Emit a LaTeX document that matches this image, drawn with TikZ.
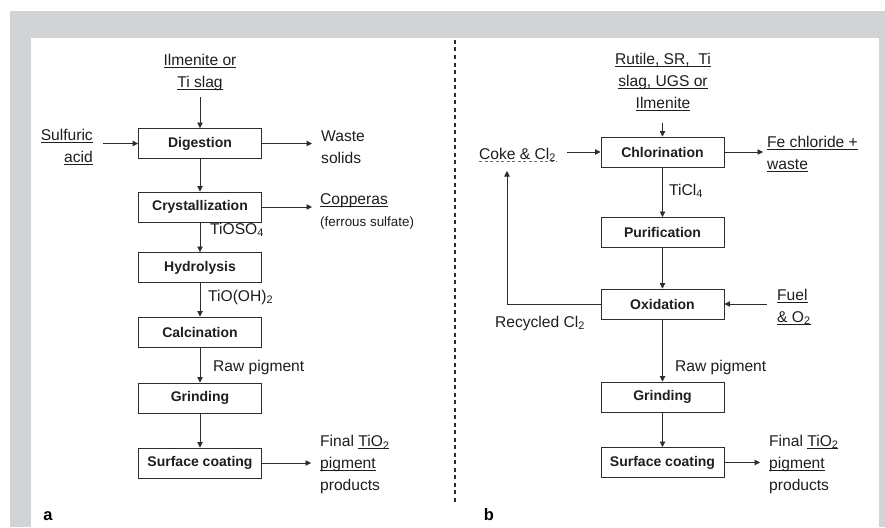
\documentclass[tikz,border=0pt]{standalone}
\usepackage{fontspec}
\setmainfont{Liberation Sans}
\usetikzlibrary{arrows.meta}
\definecolor{framegray}{RGB}{209,211,212}
\definecolor{ink}{RGB}{30,30,30}
\definecolor{wire}{RGB}{45,45,45}
% underline at a fixed depth below the baseline
\newcommand\undl[1]{\setbox0\hbox{#1}\rlap{\rule[-2.6pt]{\wd0}{0.85pt}}\box0}
\tikzset{
  stepbox/.style={draw=wire, line width=0.95pt, minimum width=123pt, minimum height=30pt,
    inner sep=0pt, font=\fontsize{14}{17}\selectfont\bfseries, text=ink},
  lbl/.style={inner sep=0pt, font=\fontsize{15.6}{22}\selectfont, text=ink},
  sml/.style={inner sep=0pt, font=\fontsize{13.4}{16}\selectfont, text=ink},
  flow/.style={draw=wire, line width=0.85pt, -{Triangle[length=5.5pt,width=5.5pt]}},
  panel/.style={inner sep=0pt, font=\fontsize{16.5}{18}\selectfont\bfseries, text=black}
}
\begin{document}
\begin{tikzpicture}[x=1pt,y=-1pt]
\useasboundingbox (0,0) rectangle (885,527);
% frame
\fill[white] (0,0) rectangle (885,527);
\fill[framegray] (10,11) rectangle (885,527);
\fill[white] (31,38) rectangle (879,527);
% separator between the two routes
\draw[wire, line width=1.6pt, dash pattern=on 4pt off 3.5pt] (455,40) -- (455,502);

% ---------- (a) sulfate route ----------
\node[lbl, align=center] (ilm) at (200,72) {\undl{Ilmenite or}\\\undl{Ti slag}};
\node[stepbox] (dig) at (200,143.5) {Digestion};
\node[lbl, align=right, anchor=east] (sulf) at (93,147) {\undl{Sulfuric}\\\undl{acid}};
\node[lbl, align=left, anchor=west] (waste) at (321,147) {Waste\\solids};
\node[stepbox] (cry) at (200,207) {Crystallization};
\node[lbl, anchor=base west] (cop) at (320,204) {\undl{Copperas}};
\node[sml, anchor=base west] (fer) at (320,226) {(ferrous sulfate)};
\node[stepbox] (hyd) at (200,267.5) {Hydrolysis};
\node[stepbox] (cal) at (200,332) {Calcination};
\node[stepbox] (grA) at (200,398) {Grinding};
\node[stepbox] (scA) at (200,463) {Surface coating};
\node[lbl, align=left, anchor=west] (finA) at (320,464.5)
  {Final \undl{TiO\textsubscript{2}}\\\undl{pigment}\\products};
\node[lbl, anchor=base west] (tioso) at (210,234) {TiOSO\textsubscript{4}};
\node[lbl, anchor=base west] (tiooh) at (208,301) {TiO(OH)\textsubscript{2}};
\node[lbl, anchor=base west] (rawA) at (213,371) {Raw pigment};
\node[panel] (pa) at (48,516) {a};

\coordinate (sulfEnd) at (103,143.5);
\coordinate (wasteEnd) at (312,143.5);
\coordinate (copEnd) at (312,207);
\coordinate (finAEnd) at (311,463);
\draw[flow] (ilm.south |- 0,97) -- (dig.north);
\draw[flow] (sulfEnd) -- (dig.west);
\draw[flow] (dig.east) -- (wasteEnd);
\draw[flow] (dig) -- (cry);
\draw[flow] (cry.east) -- (copEnd);
\draw[flow] (cry) -- (hyd);
\draw[flow] (hyd) -- (cal);
\draw[flow] (cal) -- (grA);
\draw[flow] (grA) -- (scA);
\draw[flow] (scA.east) -- (finAEnd);

% ---------- (b) chloride route ----------
\node[lbl, align=center] (rut) at (663,82) {\undl{Rutile, SR,\ \ Ti}\\\undl{slag, UGS or}\\\undl{Ilmenite}};
\node[stepbox] (chl) at (662.5,152) {Chlorination};
\node[lbl, anchor=base west] (coke) at (479,159) {Coke \& Cl\textsubscript{2}};
\draw[wire!70, line width=0.85pt, dash pattern=on 3pt off 2.5pt]
  ([yshift=-2.4pt]coke.base west) -- ([yshift=-2.4pt]coke.base east);
\node[lbl, align=left, anchor=west] (fe) at (767,154) {\undl{Fe chloride +}\\\undl{waste}};
\node[stepbox] (pur) at (662.5,232.5) {Purification};
\node[stepbox] (oxi) at (662.5,304) {Oxidation};
\node[lbl, align=left, anchor=west] (fuel) at (777,307) {\undl{Fuel}\\\undl{\& O\textsubscript{2}}};
\node[stepbox] (grB) at (662.5,397) {Grinding};
\node[stepbox] (scB) at (662.5,462.5) {Surface coating};
\node[lbl, align=left, anchor=west] (finB) at (769,464)
  {Final \undl{TiO\textsubscript{2}}\\\undl{pigment}\\products};
\node[lbl, anchor=base west] (ticl) at (669,195) {TiCl\textsubscript{4}};
\node[lbl, anchor=base] (rec) at (540,327) {Recycled Cl\textsubscript{2}};
\node[lbl, anchor=base west] (rawB) at (675,371) {Raw pigment};
\node[panel] (pb) at (489,515) {b};

\coordinate (rutEnd) at (662.5,123);
\coordinate (cokeEnd) at (567,152);
\coordinate (feEnd) at (763,152);
\coordinate (fuelEnd) at (767,304);
\coordinate (recCorner) at (507,304);
\coordinate (recEnd) at (507,171);
\coordinate (finBEnd) at (760,462.5);
\draw[flow] (rutEnd) -- (chl.north);
\draw[flow] (cokeEnd) -- (chl.west);
\draw[flow] (chl.east) -- (feEnd);
\draw[flow] (chl) -- (pur);
\draw[flow] (pur) -- (oxi);
\draw[flow] (fuelEnd) -- (oxi.east);
\draw[flow] (oxi.west) -- (recCorner) -- (recEnd);
\draw[flow] (oxi) -- (grB);
\draw[flow] (grB) -- (scB);
\draw[flow] (scB.east) -- (finBEnd);
\end{tikzpicture}
\end{document}
